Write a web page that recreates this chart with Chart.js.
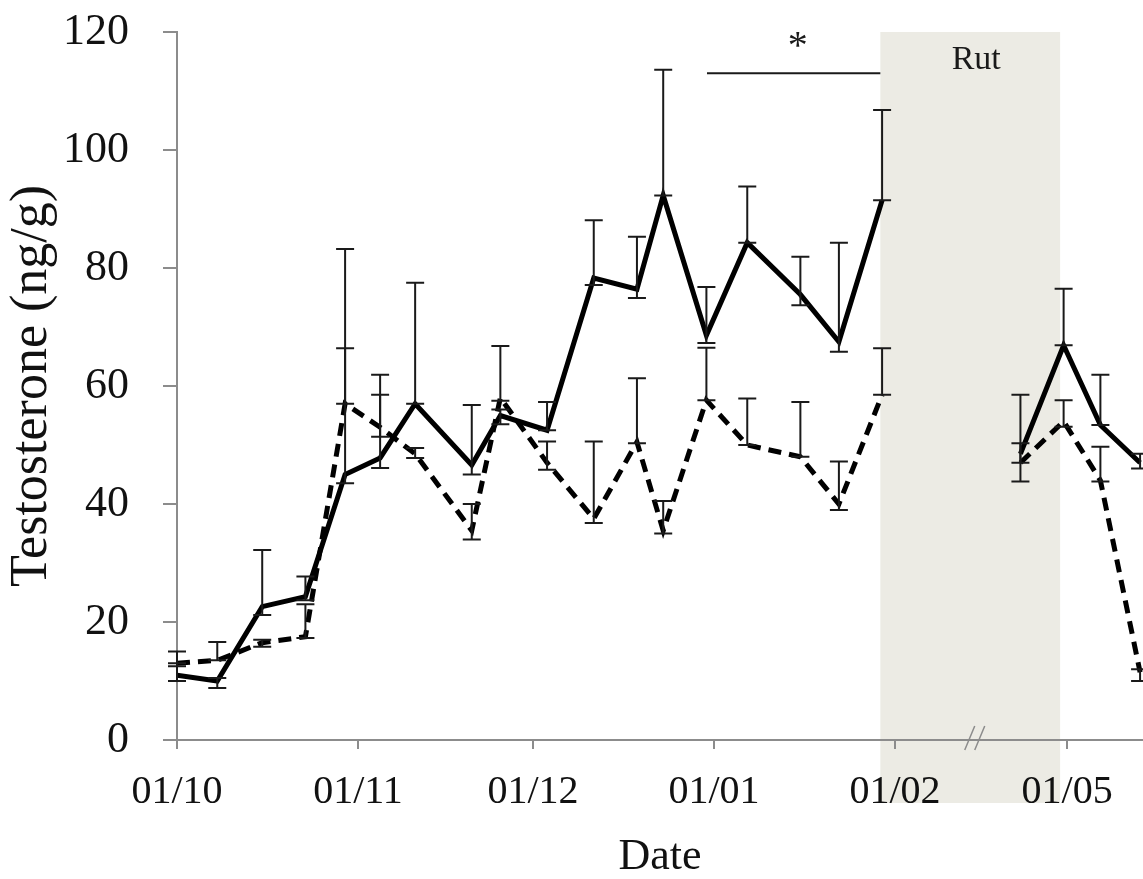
<!DOCTYPE html>
<html>
<head>
<meta charset="utf-8">
<script src="https://cdn.jsdelivr.net/npm/chart.js@4.4.1/dist/chart.umd.min.js"></script>
<style>
  html, body { margin: 0; padding: 0; background: #fff; }
  #wrap { width: 1143px; height: 879px; position: relative; }
</style>
</head>
<body>
<div id="wrap"><canvas id="testoChart"></canvas></div>
<script>
// axis: days since 1 Oct, the gap Feb -> May is compressed (broken axis)
const tickDays = [0, 31, 61, 92, 123, 152.5];
const tickLabels = ['01/10', '01/11', '01/12', '01/01', '01/02', '01/05'];

const sampleDays = [0, 6.9, 14.6, 22, 28.8, 34.8, 40.8, 50.5, 55.4, 63.4, 71.4,
  78.8, 83.3, 90.7, 97.7, 106.8, 113.4, 120.8, 144.5, 151.9, 158.2, 165];

// solid line
const solidMean = [11, 10, 22.6, 24.3, 45, 47.8, 57, 46.6, 55, 52.5, 78.3,
  76.4, 92.3, 68.6, 84.3, 75.5, 67.5, 91.5, 48.5, 66.9, 53.4, 47];
const solidLow = [10, 8.8, 21.2, 23.7, 43.5, 46.1, 57, 45, 53.5, 52.5, 77.1,
  74.9, 92.3, 67.3, 84.3, 73.7, 65.8, 91.5, 47, 66.9, 53.4, 46];
const solidHigh = [13, 10.5, 32.2, 27.7, 66.4, 58.5, 77.5, 56.8, 56, 57.3, 88.1,
  85.3, 113.6, 76.8, 93.8, 81.9, 84.3, 106.8, 58.5, 76.5, 61.9, 48.5];

// dashed line
const dashedMean = [13, 13.5, 16.5, 17.5, 57, 53, 48.5, 35.5, 58, 47, 37.5,
  50.5, 35.5, 57.6, 50, 48, 40, 58.5, 47, 54, 44, 11.5];
const dashedLow = [12.5, 13.5, 15.8, 17.3, 57, 51.4, 47.8, 34, 57.5, 45.8, 36.8,
  50.3, 35, 57.6, 50, 48, 39, 58.5, 43.8, 53.1, 43.8, 10];
const dashedHigh = [15, 16.6, 17, 23, 83.2, 61.9, 49.5, 40, 66.8, 50.6, 50.6,
  61.3, 40.5, 66.5, 57.9, 57.3, 47.2, 66.4, 50.3, 57.6, 49.7, 12];

const rutStart = 120.5;
const rutEnd = 151.3;
const sigStart = 90.8;
const sigEnd = 120.5;
const sigLevel = 113;
const axisBreakDay = 136.5;

const serif = 'Liberation Serif, Times New Roman, serif';
const axisGrey = '#8c8c8c';

function buildPoints(mean, low, high) {
  return sampleDays.map((d, i) => ({ x: d, y: mean[i], lo: low[i], hi: high[i] }));
}

// no line across the rut gap
const skipGap = {
  borderColor: ctx => (ctx.p1.parsed.x - ctx.p0.parsed.x > 15 ? 'rgba(0,0,0,0)' : undefined)
};

const rutBox = {
  id: 'rutBox',
  beforeDraw(chart) {
    const { ctx, chartArea, scales } = chart;
    const x0 = scales.x.getPixelForValue(rutStart);
    const x1 = scales.x.getPixelForValue(rutEnd);
    const top = scales.y.getPixelForValue(120);
    ctx.save();
    ctx.fillStyle = '#ecebe4';
    ctx.fillRect(x0, top, x1 - x0, chartArea.bottom + 63 - top);
    ctx.fillStyle = '#1a1a1a';
    ctx.font = '34px ' + serif;
    ctx.textAlign = 'center';
    ctx.textBaseline = 'middle';
    ctx.fillText('Rut', (x0 + x1) / 2 + 6, top + 28);
    ctx.restore();
  }
};

const errorBars = {
  id: 'errorBars',
  afterDatasetsDraw(chart) {
    const { ctx, scales } = chart;
    ctx.save();
    ctx.strokeStyle = '#1a1a1a';
    ctx.lineWidth = 2;
    chart.data.datasets.forEach(ds => {
      ds.data.forEach(p => {
        const px = scales.x.getPixelForValue(p.x);
        const yl = scales.y.getPixelForValue(p.lo);
        const yh = scales.y.getPixelForValue(p.hi);
        ctx.beginPath();
        ctx.moveTo(px, yl);
        ctx.lineTo(px, yh);
        ctx.moveTo(px - 9, yl);
        ctx.lineTo(px + 9, yl);
        ctx.moveTo(px - 9, yh);
        ctx.lineTo(px + 9, yh);
        ctx.stroke();
      });
    });
    ctx.restore();
  }
};

const extras = {
  id: 'extras',
  afterDraw(chart) {
    const { ctx, scales, chartArea } = chart;
    const xs = scales.x, ys = scales.y;
    ctx.save();
    // significance bar
    const y = ys.getPixelForValue(sigLevel);
    ctx.strokeStyle = '#1a1a1a';
    ctx.lineWidth = 2;
    ctx.beginPath();
    ctx.moveTo(xs.getPixelForValue(sigStart), y);
    ctx.lineTo(xs.getPixelForValue(sigEnd), y);
    ctx.stroke();
    ctx.fillStyle = '#1a1a1a';
    ctx.font = '40px ' + serif;
    ctx.textAlign = 'center';
    ctx.textBaseline = 'middle';
    ctx.fillText('*', (xs.getPixelForValue(sigStart) + xs.getPixelForValue(sigEnd)) / 2 + 4, y - 26);
    // axis break
    const bx = xs.getPixelForValue(axisBreakDay);
    const by = chartArea.bottom;
    ctx.strokeStyle = axisGrey;
    ctx.lineWidth = 1.5;
    ctx.beginPath();
    ctx.moveTo(bx - 9, by + 10);
    ctx.lineTo(bx + 1, by - 14);
    ctx.moveTo(bx + 1, by + 10);
    ctx.lineTo(bx + 11, by - 14);
    ctx.stroke();
    ctx.restore();
  }
};

new Chart(document.getElementById('testoChart'), {
  type: 'line',
  data: {
    datasets: [
      {
        label: 'Solid',
        data: buildPoints(solidMean, solidLow, solidHigh),
        borderColor: '#000',
        borderWidth: 5,
        pointRadius: 0,
        tension: 0,
        segment: skipGap
      },
      {
        label: 'Dashed',
        data: buildPoints(dashedMean, dashedLow, dashedHigh),
        borderColor: '#000',
        borderWidth: 5,
        borderDash: [13, 8],
        pointRadius: 0,
        tension: 0,
        segment: skipGap
      }
    ]
  },
  options: {
    responsive: true,
    maintainAspectRatio: false,
    animation: false,
    layout: { padding: { top: 32, right: 0, left: 0, bottom: 0 } },
    plugins: {
      legend: { display: false },
      tooltip: { enabled: false }
    },
    scales: {
      x: {
        type: 'linear',
        min: 0,
        max: 165.5,
        afterBuildTicks: scale => {
          scale.ticks = tickDays.map(v => ({ value: v }));
        },
        afterFit: scale => { scale.height = 139; },
        ticks: {
          autoSkip: false,
          maxRotation: 0,
          padding: 19,
          color: '#111',
          font: { family: serif, size: 40 },
          callback: v => tickLabels[tickDays.indexOf(v)]
        },
        grid: { drawOnChartArea: false, drawTicks: true, tickLength: 9, color: axisGrey, lineWidth: 2 },
        border: { color: axisGrey, width: 2 },
        title: {
          display: true,
          text: 'Date',
          color: '#111',
          font: { family: serif, size: 44, lineHeight: 1 },
          padding: { top: 0, bottom: 0 }
        }
      },
      y: {
        min: 0,
        max: 120,
        afterFit: scale => {
          scale.width = 177;
          scale.paddingTop = 0;
          scale.paddingBottom = 0;
        },
        ticks: {
          stepSize: 20,
          padding: 34,
          color: '#111',
          font: { family: serif, size: 44 }
        },
        grid: { drawOnChartArea: false, drawTicks: true, tickLength: 14, color: axisGrey, lineWidth: 2 },
        border: { color: axisGrey, width: 2 },
        title: {
          display: true,
          text: 'Testosterone (ng/g)',
          color: '#111',
          font: { family: serif, size: 52, lineHeight: 1 },
          padding: { top: 6, bottom: 0 }
        }
      }
    }
  },
  plugins: [rutBox, errorBars, extras]
});
</script>
</body>
</html>
